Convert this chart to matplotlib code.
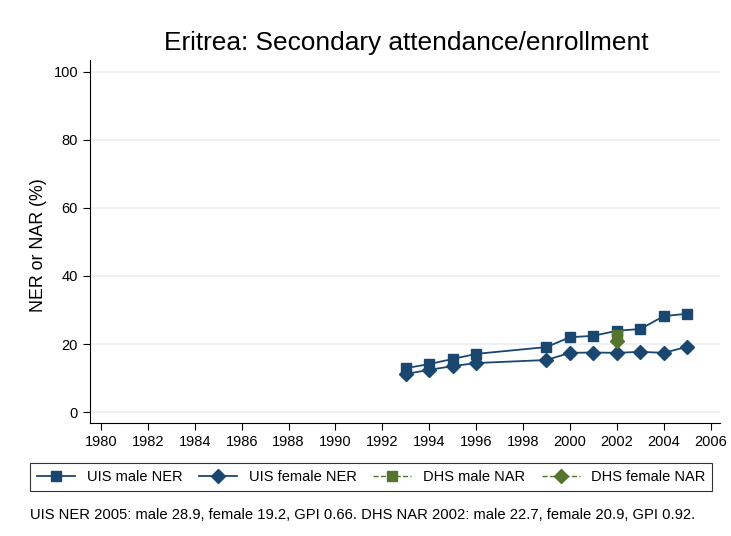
import matplotlib
matplotlib.use('Agg')
from matplotlib import pyplot as plt
from matplotlib.lines import Line2D

plt.rcParams['font.family'] = ['Liberation Sans', 'DejaVu Sans']

uis_years = [1993, 1994, 1995, 1996, 1999, 2000, 2001, 2002, 2003, 2004, 2005]
uis_male = [12.9, 14.1, 15.6, 17.1, 19.1, 22.0, 22.4, 23.9, 24.4, 28.2, 28.9]
uis_female = [11.2, 12.4, 13.5, 14.4, 15.3, 17.4, 17.5, 17.4, 17.7, 17.4, 19.2]
dhs_years = [2002]
dhs_male = [22.7]
dhs_female = [20.9]

x_ticks = list(range(1980, 2007, 2))
y_ticks = [0, 20, 40, 60, 80, 100]

navy = '#1a476f'
green = '#55752f'

fig = plt.figure(figsize=(7.31, 5.36), dpi=100)
ax = fig.add_axes([0.123, 0.211, 0.862, 0.677])

for y in y_ticks:
	ax.axhline(y, color='#e8eff2', lw=1.2, zorder=0)

ax.plot(uis_years, uis_male, color=navy, marker='s', ms=7.5, lw=1.3, label='UIS male NER')
ax.plot(uis_years, uis_female, color=navy, marker='D', ms=7.5, lw=1.3, label='UIS female NER')
ax.plot(dhs_years, dhs_male, color=green, marker='s', ms=7.5, lw=1.0, ls='--', label='DHS male NAR')
ax.plot(dhs_years, dhs_female, color=green, marker='D', ms=7.5, lw=1.0, ls='--', label='DHS female NAR')

ax.set_xlim(1979.53, 2006.4)
ax.set_ylim(-3.2, 103.5)
ax.set_xticks(x_ticks)
ax.set_yticks(y_ticks)
ax.tick_params(labelsize=10.5, length=5, color='black')
for s in ['top', 'right']:
	ax.spines[s].set_visible(False)
ax.set_ylabel('NER or NAR (%)', fontsize=12.8)
ax.yaxis.set_label_coords(-0.068, 0.489)

fig.text(0.556, 0.92, 'Eritrea: Secondary attendance/enrollment', fontsize=18.9, ha='center', va='center')

handles = [
	Line2D([], [], color=navy, marker='s', ms=7, lw=1.3),
	Line2D([], [], color=navy, marker='D', ms=7, lw=1.3),
	Line2D([], [], color=green, marker='s', ms=7, lw=1.0, ls='--'),
	Line2D([], [], color=green, marker='D', ms=7, lw=1.0, ls='--'),
]
labels = ['UIS male NER', 'UIS female NER', 'DHS male NAR', 'DHS female NAR']
leg = fig.legend(handles, labels, loc='center', bbox_to_anchor=(0.508, 0.11), ncol=4,
	fontsize=10.5, frameon=True, fancybox=False, edgecolor='black', handlelength=2.6,
	columnspacing=1.15, borderpad=0.45)
leg.get_frame().set_linewidth(0.8)

fig.text(0.041, 0.04, 'UIS NER 2005: male 28.9, female 19.2, GPI 0.66. DHS NAR 2002: male 22.7, female 20.9, GPI 0.92.',
	fontsize=10.6, ha='left', va='center')

fig.savefig('out.png', dpi=100)
